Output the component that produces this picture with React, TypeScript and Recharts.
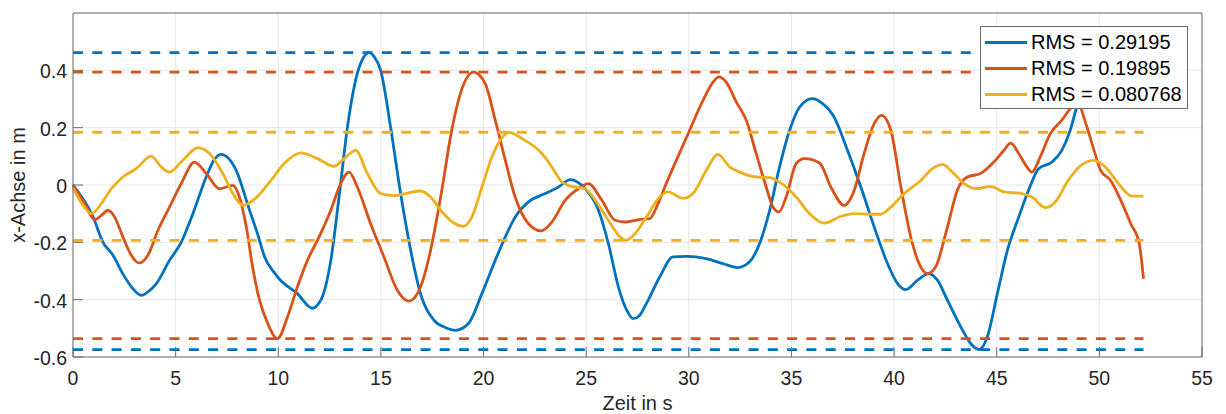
import { CartesianGrid, Legend, Line, LineChart, XAxis, YAxis } from "recharts"

// Position signals, time in s and displacement in m
const blueTime = [0, 0.97, 1.46, 1.95, 2.43, 2.9, 3.33, 3.7, 4.06, 4.7, 5.27, 5.84, 6.49, 6.9, 7.22, 7.55, 7.95, 8.6, 8.99, 9.33, 9.8, 10.04, 10.93, 11.66, 11.95, 12.15, 12.56, 12.96, 13.37, 13.85, 14.15, 14.42, 14.7, 14.99, 15.47, 15.96, 16.45, 16.93, 17.59, 18.14, 18.62, 19.27, 19.92, 20.57, 21.06, 21.54, 22.19, 23.0, 23.65, 24.22, 24.95, 25.6, 26.08, 26.57, 27.0, 27.28, 27.6, 27.93, 28.58, 29.23, 29.88, 30.85, 31.66, 32.39, 32.96, 33.45, 33.94, 34.42, 34.91, 35.4, 36.01, 36.5, 37.08, 37.73, 38.38, 39.03, 39.68, 40.17, 40.57, 41.14, 41.7, 42.11, 42.6, 43.25, 43.73, 44.14, 44.54, 45.03, 45.52, 46.07, 46.55, 47.04, 47.69, 48.17, 48.58, 48.9, 49.2]
const blueValue = [0, -0.11, -0.2, -0.245, -0.31, -0.36, -0.385, -0.37, -0.344, -0.263, -0.2, -0.1, 0.028, 0.09, 0.107, 0.095, 0.051, -0.088, -0.17, -0.25, -0.305, -0.327, -0.379, -0.43, -0.415, -0.39, -0.263, -0.042, 0.202, 0.389, 0.445, 0.462, 0.445, 0.4, 0.202, -0.03, -0.228, -0.379, -0.472, -0.497, -0.507, -0.483, -0.379, -0.263, -0.181, -0.112, -0.059, -0.03, -0.007, 0.019, -0.013, -0.088, -0.204, -0.356, -0.44, -0.466, -0.455, -0.414, -0.321, -0.251, -0.249, -0.257, -0.274, -0.288, -0.268, -0.204, -0.088, 0.063, 0.191, 0.272, 0.301, 0.285, 0.237, 0.121, -0.007, -0.146, -0.274, -0.344, -0.365, -0.332, -0.309, -0.332, -0.402, -0.495, -0.553, -0.574, -0.53, -0.379, -0.228, -0.112, -0.018, 0.057, 0.08, 0.121, 0.191, 0.272, 0.33]

const orangeTime = [0, 0.57, 1.06, 1.38, 1.7, 2.03, 2.43, 2.84, 3.21, 3.65, 4.14, 4.7, 5.27, 5.92, 6.49, 7.14, 7.79, 8.11, 8.44, 8.76, 9.08, 9.47, 9.96, 10.45, 10.93, 11.42, 11.99, 12.56, 13.04, 13.45, 13.85, 14.5, 15.15, 15.8, 16.37, 16.93, 17.42, 17.91, 18.46, 18.87, 19.51, 20.08, 20.57, 21.06, 21.54, 22.19, 22.81, 23.33, 23.98, 24.62, 25.11, 25.76, 26.41, 26.9, 27.63, 28.1, 28.5, 28.9, 29.39, 30.04, 30.69, 31.18, 31.47, 31.82, 32.31, 32.8, 33.28, 33.77, 34.1, 34.39, 34.74, 35.23, 35.64, 36.37, 36.92, 37.57, 38.06, 38.54, 39.03, 39.39, 39.84, 40.33, 40.81, 41.3, 41.62, 42.02, 42.6, 43.08, 43.57, 44.21, 44.86, 45.35, 45.68, 46.07, 46.47, 46.71, 47.12, 47.61, 48.17, 48.66, 48.95, 49.34, 49.74, 50.06, 50.55, 51.04, 51.53, 51.94, 52.15]
const orangeValue = [0, -0.065, -0.121, -0.106, -0.088, -0.112, -0.181, -0.245, -0.272, -0.245, -0.158, -0.077, 0.005, 0.08, 0.04, -0.013, -0.001, -0.042, -0.146, -0.29, -0.4, -0.48, -0.536, -0.46, -0.356, -0.263, -0.181, -0.088, 0.005, 0.045, -0.007, -0.135, -0.251, -0.367, -0.405, -0.356, -0.228, -0.042, 0.195, 0.319, 0.394, 0.354, 0.226, 0.086, -0.042, -0.135, -0.16, -0.129, -0.053, -0.013, 0.005, -0.053, -0.123, -0.129, -0.12, -0.117, -0.065, 0.005, 0.086, 0.191, 0.295, 0.359, 0.377, 0.359, 0.29, 0.226, 0.11, -0.007, -0.077, -0.094, -0.042, 0.075, 0.092, 0.077, -0.007, -0.071, -0.018, 0.11, 0.214, 0.243, 0.191, -0.007, -0.181, -0.286, -0.309, -0.286, -0.146, -0.018, 0.028, 0.04, 0.08, 0.121, 0.146, 0.11, 0.063, 0.045, 0.098, 0.179, 0.226, 0.272, 0.285, 0.214, 0.121, 0.051, 0.016, -0.053, -0.135, -0.204, -0.327]

const yellowTime = [0, 0.49, 0.9, 1.38, 1.87, 2.43, 3.08, 3.81, 4.3, 4.7, 5.35, 6.08, 6.65, 7.3, 7.79, 8.27, 8.92, 9.64, 10.29, 11.1, 11.91, 12.72, 13.21, 13.77, 14.34, 14.99, 15.64, 16.29, 16.93, 17.42, 17.91, 18.48, 19.03, 19.43, 19.92, 20.41, 20.81, 21.22, 21.87, 22.84, 23.33, 23.82, 24.3, 24.95, 25.44, 26.08, 26.57, 26.94, 27.38, 27.93, 28.58, 28.99, 29.72, 30.2, 30.85, 31.42, 31.99, 32.48, 33.28, 33.94, 34.42, 35.23, 35.88, 36.6, 37.41, 38.06, 38.87, 39.35, 39.84, 40.49, 41.3, 41.87, 42.36, 42.84, 43.41, 43.98, 44.71, 45.35, 46.23, 46.71, 47.37, 47.85, 48.48, 49.12, 49.74, 50.29, 50.93, 51.58, 52.15]
const yellowValue = [-0.01, -0.071, -0.1, -0.065, -0.013, 0.028, 0.057, 0.101, 0.063, 0.045, 0.086, 0.13, 0.11, 0.04, -0.03, -0.071, -0.045, 0.016, 0.075, 0.112, 0.092, 0.065, 0.092, 0.121, 0.04, -0.03, -0.037, -0.028, -0.021, -0.042, -0.088, -0.129, -0.144, -0.112, -0.007, 0.098, 0.156, 0.184, 0.162, 0.11, 0.063, 0.01, -0.005, -0.013, -0.053, -0.123, -0.175, -0.193, -0.17, -0.112, -0.042, -0.024, -0.047, -0.03, 0.051, 0.107, 0.063, 0.045, 0.028, 0.026, 0.01, -0.042, -0.1, -0.133, -0.109, -0.1, -0.102, -0.102, -0.077, -0.03, 0.016, 0.057, 0.072, 0.045, 0.005, -0.013, -0.005, -0.024, -0.03, -0.042, -0.079, -0.059, 0.016, 0.069, 0.086, 0.063, 0.005, -0.039, -0.039]

const legendLabels = ["RMS = 0.29195", "RMS = 0.19895", "RMS = 0.080768"]
const timeTicks = [0, 5, 10, 15, 20, 25, 30, 35, 40, 45, 50, 55]
const valueTicks = [-0.6, -0.4, -0.2, 0, 0.2, 0.4]

const COLORS = ["#0072BD", "#D95319", "#EDB120"]
const AXIS = "#6f6f6f"
const TEXT = "#262626"
const FONT = "'Liberation Sans', Arial, sans-serif"
const TICK_LEN = 10
const LINE_W = 2.8

const toPoints = (time: number[], value: number[]) => time.map((t, i) => ({ t, v: value[i] }))

const series = [
  { key: "blue", data: toPoints(blueTime, blueValue), label: legendLabels[0], color: COLORS[0] },
  { key: "orange", data: toPoints(orangeTime, orangeValue), label: legendLabels[1], color: COLORS[1] },
  { key: "yellow", data: toPoints(yellowTime, yellowValue), label: legendLabels[2], color: COLORS[2] },
]

// max/min guide lines, one pair per signal, over the recorded time span
const endTime = Math.max(...[blueTime, orangeTime, yellowTime].map((a) => a[a.length - 1]))
const guides = series.flatMap((s) => {
  const vals = s.data.map((p) => p.v)
  return [Math.max(...vals), Math.min(...vals)].map((level, i) => ({
    key: `${s.key}-${i ? "min" : "max"}`,
    color: s.color,
    data: [{ t: 0, v: level }, { t: endTime, v: level }],
  }))
})

const fmtValue = (v: number) => (Math.abs(v) < 1e-9 ? "0" : v.toFixed(1))

function BottomTick({ x, y, payload }: any) {
  return (
    <g>
      <line x1={x} x2={x} y1={y} y2={y - TICK_LEN} stroke={AXIS} />
      <text x={x} y={y + 21} textAnchor="middle" dominantBaseline="central" fontSize={19.5} fill={TEXT} fontFamily={FONT}>
        {payload.value}
      </text>
    </g>
  )
}

function TopTick({ x, y }: any) {
  return <line x1={x} x2={x} y1={y} y2={y + TICK_LEN} stroke={AXIS} />
}

function LeftTick({ x, y, payload }: any) {
  return (
    <g>
      <line x1={x} x2={x + TICK_LEN} y1={y} y2={y} stroke={AXIS} />
      <text x={x - 6} y={y + 1} textAnchor="end" dominantBaseline="central" fontSize={19.5} fill={TEXT} fontFamily={FONT}>
        {fmtValue(payload.value)}
      </text>
    </g>
  )
}

function RightTick({ x, y }: any) {
  return <line x1={x} x2={x - TICK_LEN} y1={y} y2={y} stroke={AXIS} />
}

function XTitle({ viewBox }: any) {
  return (
    <text x={viewBox.x + viewBox.width / 2} y={viewBox.y + 46} textAnchor="middle" dominantBaseline="central" fontSize={20} fill={TEXT} fontFamily={FONT}>
      Zeit in s
    </text>
  )
}

function YTitle({ viewBox }: any) {
  const cx = 18
  const cy = viewBox.y + viewBox.height / 2
  return (
    <text x={cx} y={cy} transform={`rotate(-90 ${cx} ${cy})`} textAnchor="middle" dominantBaseline="central" fontSize={20} fill={TEXT} fontFamily={FONT}>
      x-Achse in m
    </text>
  )
}

function LegendBox() {
  return (
    <div
      style={{
        boxSizing: "border-box",
        width: 208,
        height: 83,
        paddingTop: 3,
        background: "#fff",
        border: "1px solid #6a6a6a",
        fontFamily: FONT,
        fontSize: 20,
        color: "#000",
      }}
    >
      {series.map((s) => (
        <div key={s.key} style={{ display: "flex", alignItems: "center", height: 25.7 }}>
          <span style={{ display: "inline-block", width: 42, height: LINE_W, marginLeft: 4, background: s.color }} />
          <span style={{ marginLeft: 4, whiteSpace: "nowrap" }}>{s.label}</span>
        </div>
      ))}
    </div>
  )
}

export default function App() {
  return (
    <div style={{ position: "absolute", left: 0, top: 0, width: 1226, height: 414, background: "#fff" }}>
      <LineChart width={1226} height={414} margin={{ top: 0, right: 0, bottom: 0, left: 0 }}>
        <CartesianGrid stroke="#e6e6e6" strokeWidth={1} />
        <XAxis
          dataKey="t"
          type="number"
          domain={[0, 55]}
          ticks={timeTicks}
          height={57}
          tickSize={0}
          tickMargin={0}
          tickLine={false}
          axisLine={{ stroke: AXIS }}
          tick={<BottomTick />}
          interval={0}
          label={<XTitle />}
        />
        <XAxis
          xAxisId="top"
          orientation="top"
          type="number"
          domain={[0, 55]}
          ticks={timeTicks}
          height={13}
          tickSize={0}
          tickMargin={0}
          tickLine={false}
          axisLine={{ stroke: AXIS }}
          tick={<TopTick />}
          interval={0}
        />
        <YAxis
          type="number"
          domain={[-0.6, 0.6]}
          ticks={valueTicks}
          width={73}
          tickSize={0}
          tickMargin={0}
          tickLine={false}
          axisLine={{ stroke: AXIS }}
          tick={<LeftTick />}
          interval={0}
          label={<YTitle />}
        />
        <YAxis
          yAxisId="right"
          orientation="right"
          type="number"
          domain={[-0.6, 0.6]}
          ticks={valueTicks}
          width={24}
          tickSize={0}
          tickMargin={0}
          tickLine={false}
          axisLine={{ stroke: AXIS }}
          tick={<RightTick />}
          interval={0}
        />
        {series.map((s) => (
          <Line
            key={s.key}
            data={s.data}
            dataKey="v"
            type="monotone"
            stroke={s.color}
            strokeWidth={LINE_W}
            dot={false}
            activeDot={false}
            isAnimationActive={false}
            legendType="none"
          />
        ))}
        {guides.map((g) => (
          <Line
            key={g.key}
            data={g.data}
            dataKey="v"
            type="linear"
            stroke={g.color}
            strokeWidth={LINE_W}
            strokeDasharray="10 9.3"
            dot={false}
            activeDot={false}
            isAnimationActive={false}
            legendType="none"
          />
        ))}
        <Legend
          layout="vertical"
          align="center"
          verticalAlign="middle"
          content={() => <LegendBox />}
          wrapperStyle={{ left: 980, top: 26, width: 208, height: 83 }}
        />
      </LineChart>
    </div>
  )
}
